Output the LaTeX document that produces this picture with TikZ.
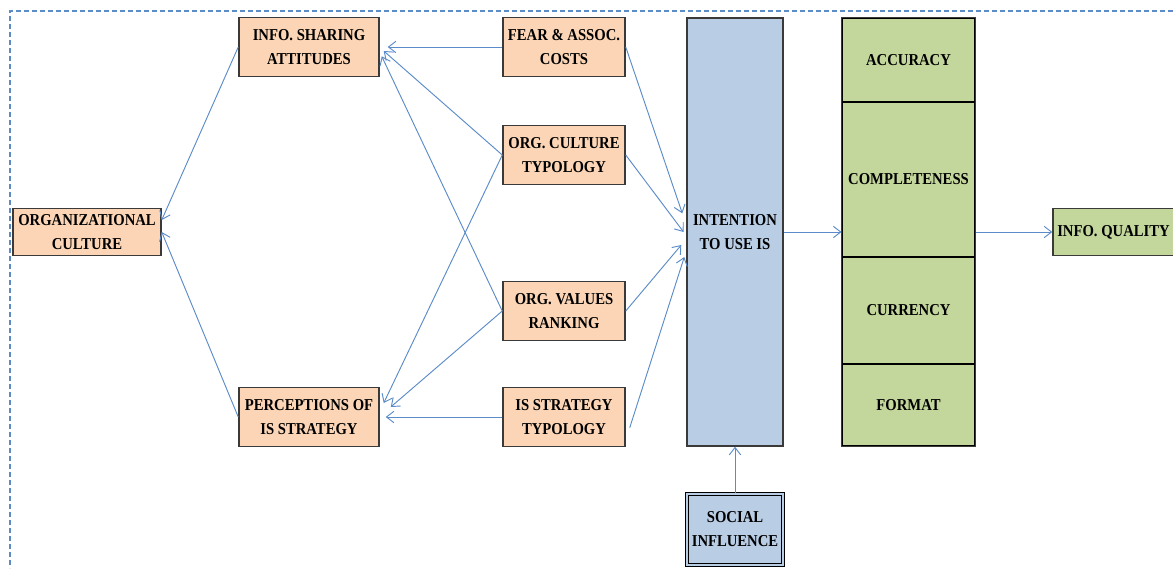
\documentclass[tikz,border=0pt]{standalone}
\usepackage{fontspec}
\setmainfont{Liberation Serif}[FakeStretch=0.88]
\usetikzlibrary{positioning,arrows.meta}
\definecolor{peach}{HTML}{FBD5B5}
\definecolor{isblue}{HTML}{B9CDE5}
\definecolor{iqgreen}{HTML}{C3D69B}
\definecolor{linkblue}{HTML}{5B8BC9}
\definecolor{boxedge}{HTML}{3A3A3A}

\begin{document}
\begin{tikzpicture}[x=0.75pt, y=0.75pt, on grid, >={Straight Barb[length=5.5pt,width=8.5pt]},
    every node/.style={font=\bfseries\fontsize{12.5}{18}\selectfont, align=center, inner sep=1pt},
    factor/.style={draw=boxedge, line width=1.1pt, fill=peach, minimum width=91.5pt, minimum height=44pt},
    attitude/.style={factor, minimum width=105pt},
    intent/.style={draw=boxedge, line width=1.1pt, fill=isblue, minimum width=72pt},
    dim/.style={draw=black, line width=0.8pt, fill=iqgreen, minimum width=99.75pt},
    link/.style={->, draw=linkblue, line width=0.7pt}]
\useasboundingbox (0,0) rectangle (1173,-568);
\draw[linkblue, line width=1.6pt, dash pattern=on 4pt off 2pt] (1173,-11) -- (10,-11) -- (10,-568);

\node[factor, minimum width=111pt, minimum height=35.25pt] (OC) at (87,-232) {ORGANIZATIONAL\\CULTURE};
\node[attitude, above right=138.75pt and 166.5pt of OC] (ISA) {INFO. SHARING\\ATTITUDES};
\node[attitude, below right=138.75pt and 166.5pt of OC] (PIS) {PERCEPTIONS OF\\IS STRATEGY};
\node[factor, right=191.25pt of ISA] (FAC) {FEAR \& ASSOC.\\COSTS};
\node[factor, below=81pt of FAC] (OCT) {ORG. CULTURE\\TYPOLOGY};
\node[factor, right=191.25pt of PIS] (IST) {IS STRATEGY\\TYPOLOGY};
\node[factor, above=79.5pt of IST] (OVR) {ORG. VALUES\\RANKING};
\node[intent, minimum height=321pt, right=486pt of OC] (INT) {INTENTION\\TO USE IS};
\node[intent, minimum height=53.25pt, draw=black, double=isblue, double distance=1pt, line width=1.1pt,
    below=223.125pt of INT] (SI) {SOCIAL\\INFLUENCE};

\node[dim, minimum height=63pt, above right=129pt and 130.125pt of INT] (ACC) {ACCURACY};
\node[dim, minimum height=116.25pt, below=89.625pt of ACC] (COM) {COMPLETENESS};
\node[dim, minimum height=80.25pt, below=98.25pt of COM] (CUR) {CURRENCY};
\node[dim, minimum height=61.5pt, below=70.875pt of CUR] (FOR) {FORMAT};
\draw[boxedge, line width=1.1pt] (ACC.north west) rectangle (FOR.south east);
\node[factor, fill=iqgreen, minimum width=90.75pt, minimum height=35.25pt,
    right=283.875pt of INT] (IQ) {INFO. QUALITY};

\draw[link] (ISA.west) -- ([yshift=9pt]OC.east);
\draw[link] (PIS.west) -- (OC.east);
\draw[link] (FAC.west) -- ([xshift=6pt]ISA.east);
\draw[link] (OCT.west) -- ([shift={(3pt,-3pt)}]ISA.east);
\draw[link] (OVR.west) -- ([shift={(1.5pt,-7pt)}]ISA.east);
\draw[link] (OCT.west) -- ([shift={(3pt,10.5pt)}]PIS.east);
\draw[link] (OVR.west) -- ([shift={(8.25pt,7.5pt)}]PIS.east);
\draw[link] (IST.west) -- ([xshift=4.5pt]PIS.east);
\draw[link] (FAC.east) -- ([shift={(-3pt,14pt)}]INT.west);
\draw[link] (OCT.east) -- ([xshift=-2pt]INT.west);
\draw[link] (OVR.east) -- ([shift={(-3.75pt,-9.75pt)}]INT.west);
\draw[link] ([shift={(3pt,-8pt)}]IST.east) -- ([shift={(-1.5pt,-18.75pt)}]INT.west);
\draw[link] (SI.north) -- (INT.south);
\draw[link] (INT.east) -- (INT.east -| COM.west);
\draw[link] (IQ.west -| COM.east) -- (IQ.west);
\end{tikzpicture}
\end{document}
